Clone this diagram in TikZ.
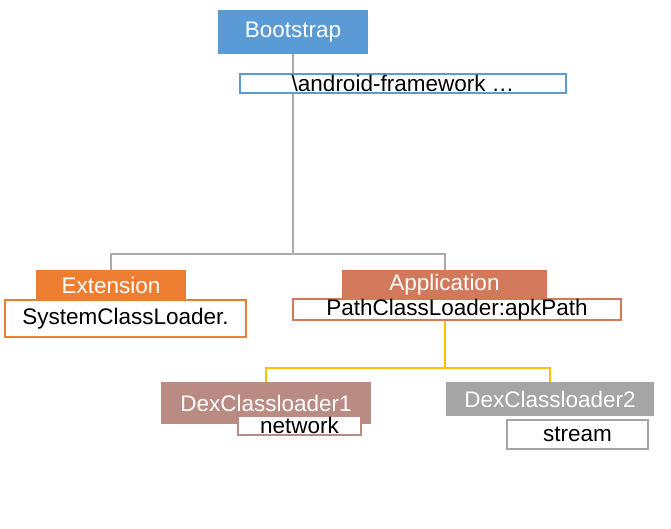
\documentclass[tikz,border=0pt]{standalone}
\usepackage{fontspec}
\setmainfont{Liberation Sans}
\definecolor{azulboot}{RGB}{91,155,213}
\definecolor{naranjaext}{RGB}{237,125,49}
\definecolor{salmonapp}{RGB}{210,121,92}
\definecolor{rosadex}{RGB}{186,139,130}
\definecolor{grisdex}{RGB}{165,165,165}
\definecolor{amarillo}{RGB}{255,192,0}
\definecolor{grislinea}{RGB}{170,170,170}
\tikzset{
    cargador/.style={inner sep=0pt, text=white, font=\fontsize{22.5}{27}\selectfont},
    ruta/.style={fill=white, text=black, line width=2pt, inner sep=0pt, font=\fontsize{22.5}{27}\selectfont},
}

\begin{document}
\begin{tikzpicture}[x=1pt, y=-1pt]

    \useasboundingbox (0,0) rectangle (671,529);

    % BOOTSTRAP
    \node[cargador, fill=azulboot, minimum width=150pt, minimum height=44pt] (boot) at (293,32) {Bootstrap};

    % EXTENSION / APPLICATION
    \node[cargador, fill=naranjaext, minimum width=150pt, minimum height=30pt] (ext) at (111,285) {Extension};
    \node[cargador, fill=salmonapp, minimum width=205pt, minimum height=30pt] (app) at (444.5,285) {Application};

    % DEX
    \node[cargador, fill=rosadex, minimum width=210pt, minimum height=42pt] (dex1) at (266,403) {DexClassloader1};
    \node[cargador, fill=grisdex, minimum width=208pt, minimum height=34pt] (dex2) at (550,399) {DexClassloader2};

    % LINEAS
    \coordinate (cruce1) at (293,254);
    \draw[grislinea, line width=2pt] (boot.south) -- (cruce1) -| (ext.north);
    \draw[grislinea, line width=2pt] (cruce1) -| (app.north);
    \coordinate (cruce2) at (444.5,368);
    \draw[amarillo, line width=2pt] (app.south) -- (cruce2) -| (dex1.north);
    \draw[amarillo, line width=2pt] (cruce2) -| (dex2.north);

    % RUTAS
    \node[ruta, draw=azulboot, minimum width=326pt, minimum height=19pt] (fw) at (403,83.5) {\textbackslash android-framework …};
    \node[ruta, draw=naranjaext, minimum width=241pt, minimum height=37pt] (scl) at (125.5,318.5) {SystemClassLoader.};
    \node[ruta, draw=salmonapp, minimum width=328pt, minimum height=21pt] (pcl) at (457,309.5) {PathClassLoader:apkPath};
    \node[ruta, draw=rosadex, minimum width=123pt, minimum height=19pt] (net) at (299.5,425.5) {network};
    \node[ruta, draw=grisdex, minimum width=141pt, minimum height=29pt] (stm) at (577.5,434.5) {stream};

\end{tikzpicture}
\end{document}
